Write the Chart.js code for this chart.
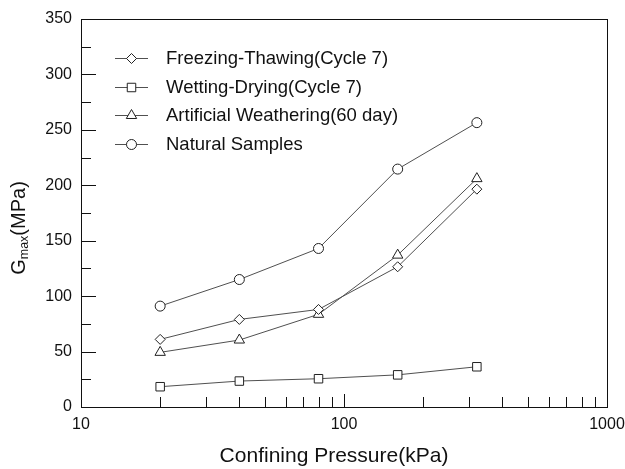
<!DOCTYPE html>
<html>
<head>
<meta charset="utf-8">
<script src="https://cdn.jsdelivr.net/npm/chart.js@4/dist/chart.umd.min.js"></script>
<style>
  html, body { margin: 0; padding: 0; background: #fff; }
  #wrap { width: 625px; height: 469px; }
</style>
</head>
<body>
<div id="wrap"><canvas id="c" width="625" height="469"></canvas></div>
<script>
// Confining pressure (kPa) at which each sample set was tested
const pressures = [20, 40, 80, 160, 320];

// Small-strain shear modulus Gmax (MPa) per sample set
const freezeThaw = [61, 79, 88, 126.5, 196.5];
const wetDry = [18.3, 23.4, 25.5, 29, 36.3];
const artificial = [49.3, 60.4, 83.6, 137, 206];
const natural = [91, 115, 143, 214.6, 256.5];

const seriesNames = [
  'Freezing-Thawing(Cycle 7)',
  'Wetting-Drying(Cycle 7)',
  'Artificial Weathering(60 day)',
  'Natural Samples'
];

// Axis ticks
const xTickValues = [10, 20, 30, 40, 50, 60, 70, 80, 90, 100, 200, 300, 400, 500, 600, 700, 800, 900, 1000];
const xLabelValues = [10, 100, 1000];
const yLabelStep = 50;
const yMinorStep = 25;

const FONT = "'Liberation Sans', Arial, Helvetica, sans-serif";
const LINE = '#505050';
const MARK = '#222';

function points(ys) {
  return pressures.map((p, i) => ({ x: p, y: ys[i] }));
}

function series(label, ys, style, radius) {
  return {
    label,
    data: points(ys),
    borderColor: LINE,
    borderWidth: 1,
    pointStyle: style,
    pointRadius: radius,
    pointHoverRadius: radius,
    pointBorderColor: MARK,
    pointBorderWidth: 1,
    pointBackgroundColor: '#fff',
    tension: 0,
    fill: false
  };
}

// White page, box frame, inward tick marks, titles and legend
const decorations = {
  id: 'decorations',
  beforeDraw(chart) {
    const ctx = chart.ctx;
    ctx.save();
    ctx.fillStyle = '#fff';
    ctx.fillRect(0, 0, chart.width, chart.height);
    ctx.restore();
  },
  afterDraw(chart) {
    const ctx = chart.ctx;
    const a = chart.chartArea;
    const xs = chart.scales.x, ys = chart.scales.y;
    ctx.save();
    ctx.strokeStyle = '#111';
    ctx.lineWidth = 1;
    ctx.strokeRect(Math.round(a.left) + 0.5, Math.round(a.top) + 0.5,
                   Math.round(a.right - a.left), Math.round(a.bottom - a.top));

    // x ticks pointing up from the bottom edge
    ctx.beginPath();
    xs.ticks.forEach(t => {
      if (t.value <= xs.min || t.value >= xs.max) return;
      const px = Math.round(xs.getPixelForValue(t.value)) + 0.5;
      const len = xLabelValues.includes(t.value) ? 13 : 10;
      ctx.moveTo(px, a.bottom);
      ctx.lineTo(px, a.bottom - len);
    });
    // y ticks pointing right from the left edge
    ys.ticks.forEach(t => {
      if (t.value <= ys.min || t.value >= ys.max) return;
      const py = Math.round(ys.getPixelForValue(t.value)) + 0.5;
      const len = t.value % yLabelStep === 0 ? 15 : 10;
      ctx.moveTo(a.left, py);
      ctx.lineTo(a.left + len, py);
    });
    ctx.stroke();

    // x-axis title
    ctx.fillStyle = '#111';
    ctx.font = `21px ${FONT}`;
    ctx.textAlign = 'center';
    ctx.textBaseline = 'alphabetic';
    ctx.fillText('Confining Pressure(kPa)', 334, 462);

    // y-axis title with subscript
    ctx.save();
    ctx.translate(25, 228);
    ctx.rotate(-Math.PI / 2);
    const mainFont = `20px ${FONT}`, subFont = `12.5px ${FONT}`;
    ctx.font = mainFont; const wG = ctx.measureText('G').width;
    const wP = ctx.measureText('(MPa)').width;
    ctx.font = subFont; const wS = ctx.measureText('max').width;
    let x0 = -(wG + wS + wP) / 2;
    ctx.textAlign = 'left';
    ctx.font = mainFont; ctx.fillText('G', x0, 0); x0 += wG;
    ctx.font = subFont; ctx.fillText('max', x0, 3); x0 += wS;
    ctx.font = mainFont; ctx.fillText('(MPa)', x0, 0);
    ctx.restore();

    // legend: line with marker, then label
    ctx.font = `18.5px ${FONT}`;
    ctx.textAlign = 'left';
    ctx.textBaseline = 'middle';
    chart.data.datasets.forEach((ds, i) => {
      const y = 58 + i * 28.5;
      ctx.strokeStyle = LINE;
      ctx.lineWidth = 1;
      ctx.beginPath();
      ctx.moveTo(115, Math.round(y) + 0.5);
      ctx.lineTo(148, Math.round(y) + 0.5);
      ctx.stroke();
      ctx.strokeStyle = MARK;
      ctx.fillStyle = '#fff';
      Chart.helpers.drawPoint(ctx, {
        pointStyle: ds.pointStyle, radius: ds.pointRadius, rotation: 0, borderWidth: 1
      }, 131.5, Math.round(y) + 0.5);
      ctx.fillStyle = '#111';
      ctx.fillText(ds.label, 166, y + 1);
    });
    ctx.restore();
  }
};

new Chart(document.getElementById('c'), {
  type: 'line',
  data: {
    datasets: [
      series(seriesNames[0], freezeThaw, 'rectRot', 5),
      series(seriesNames[1], wetDry, 'rect', 6),
      series(seriesNames[2], artificial, 'triangle', 6),
      series(seriesNames[3], natural, 'circle', 5)
    ]
  },
  options: {
    responsive: false,
    devicePixelRatio: 1,
    animation: false,
    layout: { padding: { left: 0, right: 18, top: 19, bottom: 0 } },
    plugins: { legend: { display: false }, tooltip: { enabled: false } },
    scales: {
      x: {
        type: 'logarithmic',
        min: 10,
        max: 1000,
        grid: { display: false, drawTicks: false },
        border: { display: false },
        afterBuildTicks(scale) {
          scale.ticks = xTickValues.map(v => ({ value: v }));
        },
        afterFit(scale) {
          scale.height = 62;
          scale.paddingLeft = 0;
          scale.paddingRight = 0;
        },
        ticks: {
          autoSkip: false,
          maxRotation: 0,
          padding: 8,
          color: '#111',
          font: { family: FONT, size: 16 },
          callback: v => (xLabelValues.includes(v) ? String(v) : '')
        }
      },
      y: {
        min: 0,
        max: 350,
        grid: { display: false, drawTicks: false },
        border: { display: false },
        afterFit(scale) {
          scale.width = 81;
          scale.paddingTop = 0;
          scale.paddingBottom = 0;
        },
        ticks: {
          stepSize: yMinorStep,
          autoSkip: false,
          padding: 9,
          color: '#111',
          font: { family: FONT, size: 16 },
          callback: v => (v % yLabelStep === 0 ? String(v) : '')
        }
      }
    }
  },
  plugins: [decorations]
});
</script>
</body>
</html>
